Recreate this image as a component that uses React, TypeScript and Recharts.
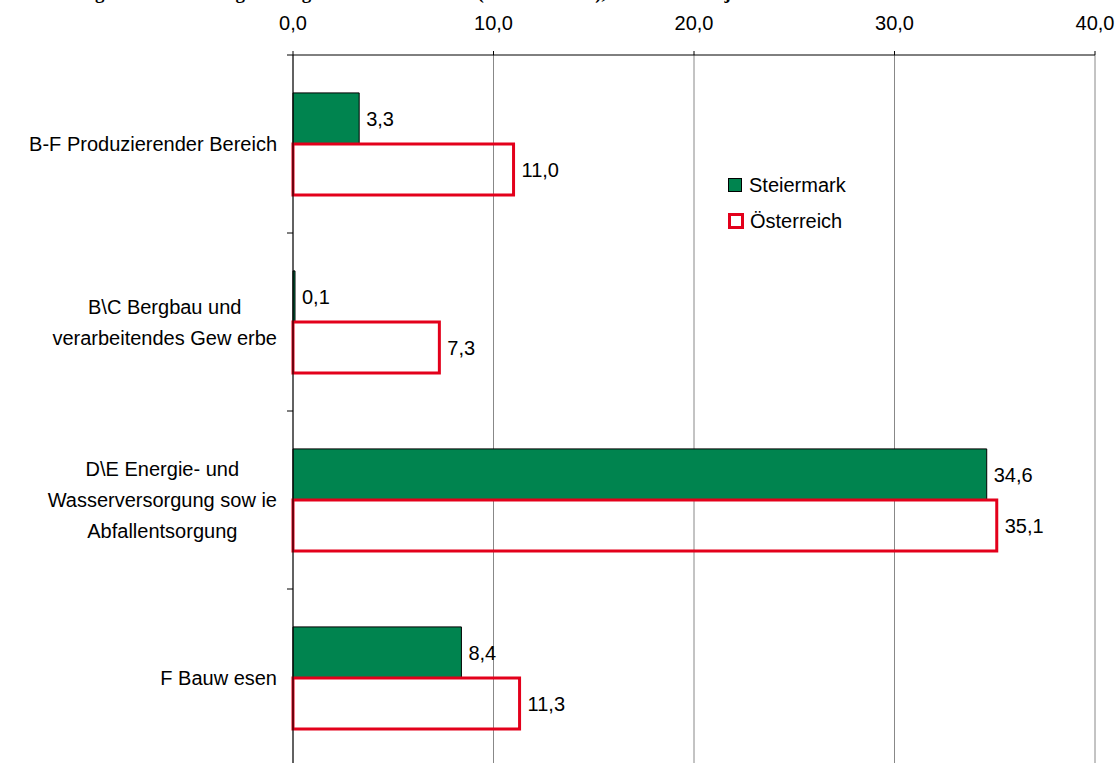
import { BarChart, Bar, XAxis, YAxis, CartesianGrid, LabelList } from "recharts";

// Data
const CATEGORIES = [
  "B-F Produzierender Bereich",
  "B\\C Bergbau und\nverarbeitendes Gew erbe",
  "D\\E Energie- und\nWasserversorgung sow ie\nAbfallentsorgung",
  "F Bauw esen",
];
const STEIERMARK = [3.3, 0.1, 34.6, 8.4];
const OESTERREICH = [11.0, 7.3, 35.1, 11.3];
const X_TICKS = [0, 10, 20, 30, 40];
const SERIES_NAMES = ["Steiermark", "Österreich"];
const TITLE = "Abbildung 11: Veränderung der abgesetzten Produktion (ÖNACE 2008), in % zum Vorjahr";

const data = CATEGORIES.map((name, i) => ({
  name,
  steiermark: STEIERMARK[i],
  oesterreich: OESTERREICH[i],
}));

const GREEN = "#00844f";
const RED = "#e3001b";
const FONT = "'Liberation Sans', Arial, sans-serif";

const W = 1118;
const H = 767;
const MARGIN = { top: 25, right: 23, bottom: 0, left: 0 };
const Y_AXIS_W = 293;
const X_AXIS_H = 30;
const BAND = (H - MARGIN.top - MARGIN.bottom - X_AXIS_H) / CATEGORIES.length;

const fmt = (v: any) => Number(v).toFixed(1).replace(".", ",");

let ctx: CanvasRenderingContext2D | null = null;
function textWidth(s: string) {
  if (!ctx) ctx = document.createElement("canvas").getContext("2d");
  if (!ctx) return s.length * 10;
  ctx.font = `20px ${FONT}`;
  return ctx.measureText(s).width;
}

// category label + tick marks at band edges (excel style)
function CategoryTick({ y, payload, index }: any) {
  const lines = String(payload.value).split("\n");
  const right = Y_AXIS_W - 16;
  const cx = right - Math.max(...lines.map(textWidth)) / 2;
  const lh = 31;
  const y0 = y - ((lines.length - 1) * lh) / 2;
  return (
    <g>
      <line x1={Y_AXIS_W - 6} x2={Y_AXIS_W} y1={y - BAND / 2} y2={y - BAND / 2} stroke="#000" />
      {index === CATEGORIES.length - 1 && (
        <line x1={Y_AXIS_W - 6} x2={Y_AXIS_W} y1={y + BAND / 2} y2={y + BAND / 2} stroke="#000" />
      )}
      <text textAnchor="middle" fontFamily={FONT} fontSize={20} fill="#000">
        {lines.map((l, i) => (
          <tspan key={i} x={cx} y={y0 + i * lh} dy="0.35em">
            {l}
          </tspan>
        ))}
      </text>
    </g>
  );
}

function LegendBox() {
  const row = { display: "flex", alignItems: "center", height: 36 } as const;
  return (
    <div
      style={{
        position: "absolute",
        left: 728,
        top: 167,
        fontFamily: FONT,
        fontSize: 20,
        color: "#000",
      }}
    >
      <div style={row}>
        <span style={{ width: 12, height: 12, background: GREEN, border: "1px solid #000", marginRight: 7 }} />
        {SERIES_NAMES[0]}
      </div>
      <div style={row}>
        <span style={{ width: 10, height: 10, background: "#fff", border: `3px solid ${RED}`, marginRight: 6 }} />
        {SERIES_NAMES[1]}
      </div>
    </div>
  );
}

export default function App() {
  return (
    <div
      style={{
        position: "fixed",
        left: 0,
        top: 0,
        width: W,
        height: 763,
        overflow: "hidden",
        background: "#fff",
      }}
    >
      <svg width={W} height={12} style={{ position: "absolute", left: 0, top: 0 }}>
        <text x={18} y={-1} fontFamily="'Liberation Serif', serif" fontWeight="bold" fontSize={19} fill="#000">
          {TITLE}
        </text>
      </svg>
      <BarChart
        width={W}
        height={H}
        data={data}
        layout="vertical"
        margin={MARGIN}
        barGap={0}
        barCategoryGap="21.3%"
      >
        <CartesianGrid horizontal={false} stroke="#888" />
        <XAxis
          type="number"
          orientation="top"
          domain={[0, 40]}
          ticks={X_TICKS}
          tickFormatter={fmt}
          height={X_AXIS_H}
          axisLine={{ stroke: "#000" }}
          tickLine={{ stroke: "#000" }}
          tickSize={4}
          tickMargin={21}
          tick={{ fill: "#000", fontSize: 20, fontFamily: FONT }}
          interval={0}
        />
        <YAxis
          type="category"
          dataKey="name"
          width={Y_AXIS_W}
          axisLine={{ stroke: "#000" }}
          tickLine={false}
          tick={<CategoryTick />}
          interval={0}
        />
        <Bar dataKey="steiermark" name={SERIES_NAMES[0]} fill={GREEN} stroke="#000" strokeWidth={1} isAnimationActive={false}>
          <LabelList dataKey="steiermark" position="right" offset={7} formatter={fmt} fill="#000" fontSize={20} fontFamily={FONT} />
        </Bar>
        <Bar dataKey="oesterreich" name={SERIES_NAMES[1]} fill="none" stroke={RED} strokeWidth={3} isAnimationActive={false}>
          <LabelList dataKey="oesterreich" position="right" offset={8} formatter={fmt} fill="#000" fontSize={20} fontFamily={FONT} />
        </Bar>
      </BarChart>
      <LegendBox />
    </div>
  );
}
